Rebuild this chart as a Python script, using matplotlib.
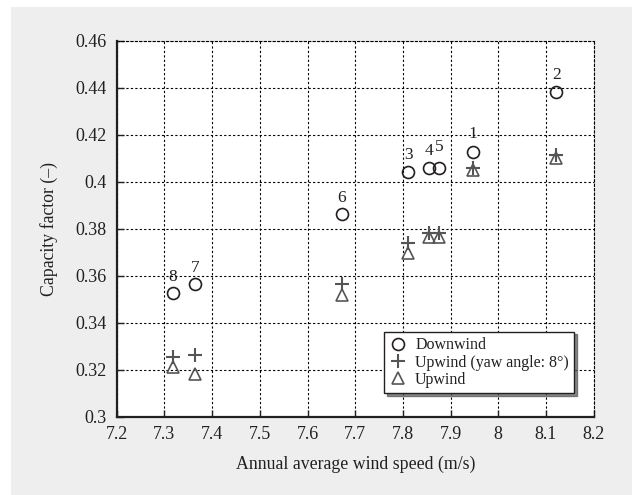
import matplotlib
matplotlib.use("Agg")
import matplotlib.pyplot as plt
from matplotlib.patches import Rectangle

plt.rcParams['font.family'] = ['Liberation Serif', 'DejaVu Serif']
plt.rcParams['mathtext.fontset'] = 'stix'

# Turbine sites 1-8
site_labels = ['1', '2', '3', '4', '5', '6', '7', '8']
wind_speed = [7.946, 8.122, 7.811, 7.854, 7.876, 7.672, 7.365, 7.317]
cf_downwind = [0.4125, 0.4381, 0.4041, 0.4058, 0.4058, 0.3861, 0.3563, 0.3525]
cf_upwind_yaw8 = [0.4057, 0.4114, 0.3740, 0.3780, 0.3780, 0.3563, 0.3261, 0.3253]
cf_upwind = [0.4050, 0.4101, 0.3698, 0.3763, 0.3765, 0.3520, 0.3182, 0.3213]
label_offsets = [13, 12, 12, 12, 15.5, 11.5, 12, 12]

x_ticks = [7.2, 7.3, 7.4, 7.5, 7.6, 7.7, 7.8, 7.9, 8.0, 8.1, 8.2]
x_tick_labels = ['7.2', '7.3', '7.4', '7.5', '7.6', '7.7', '7.8', '7.9', '8', '8.1', '8.2']
y_ticks = [0.30, 0.32, 0.34, 0.36, 0.38, 0.40, 0.42, 0.44, 0.46]
y_tick_labels = ['0.3', '0.32', '0.34', '0.36', '0.38', '0.4', '0.42', '0.44', '0.46']

ink = '#231f20'
grey = '#555555'

fig = plt.figure(figsize=(6.32, 4.95), dpi=100)
fig.patch.set_facecolor('white')
fig.add_artist(Rectangle((11 / 632, 0), 1 - 11 / 632, 1 - 7.3 / 495,
                         transform=fig.transFigure, facecolor='#eeeeee',
                         edgecolor='none', zorder=-10))

ax = fig.add_axes([116.7 / 632, 1 - 416.7 / 495, 477 / 632, 376 / 495])
ax.set_facecolor('white')

ax.plot(wind_speed, cf_downwind, linestyle='none', marker='o', markersize=8.6,
        markerfacecolor='none', markeredgecolor=ink, markeredgewidth=1.2,
        label='Downwind', zorder=4)
ax.plot(wind_speed, cf_upwind_yaw8, linestyle='none', marker='+', markersize=9.5,
        markeredgecolor=grey, markeredgewidth=1.5,
        label='Upwind (yaw angle: 8°)', zorder=4)
ax.plot(wind_speed, cf_upwind, linestyle='none', marker='^', markersize=8.5,
        markerfacecolor='none', markeredgecolor=grey, markeredgewidth=1.2,
        label='Upwind', zorder=4)

for lab, xv, yv, off in zip(site_labels, wind_speed, cf_downwind, label_offsets):
    ax.annotate(lab, (xv, yv), xytext=(0, off), textcoords='offset points',
                ha='center', va='center', fontsize=12.5, color=ink, zorder=5)

ax.set_xlim(7.2, 8.2)
ax.set_ylim(0.30, 0.46)
ax.set_xticks(x_ticks)
ax.set_xticklabels(x_tick_labels)
ax.set_yticks(y_ticks)
ax.set_yticklabels(y_tick_labels)
ax.tick_params(direction='in', length=5, width=1, colors=ink, labelsize=13,
               labelcolor=ink, pad=7)

ax.grid(True, color='black', linestyle=(0, (2.0, 2.0)), linewidth=0.8)
ax.set_axisbelow(True)
for side in ('left', 'bottom'):
    ax.spines[side].set_color(ink)
    ax.spines[side].set_linewidth(1.6)
    ax.spines[side].set_zorder(6)
for side in ('top', 'right'):
    ax.spines[side].set_color('black')
    ax.spines[side].set_linewidth(0.8)
    ax.spines[side].set_linestyle((0, (2.0, 2.0)))

ax.set_xlabel('Annual average wind speed (m/s)', fontsize=12.8, color=ink, labelpad=9)
ax.set_ylabel('Capacity factor (–)', fontsize=12.8, color=ink, labelpad=13)

leg = ax.legend(loc='upper left', bbox_to_anchor=(384 / 632, 1 - 331.7 / 495),
                bbox_transform=fig.transFigure, fontsize=11.5, frameon=True,
                fancybox=False, shadow={'color': '#555555', 'alpha': 0.7},
                edgecolor=ink, framealpha=1, borderpad=0.35, labelspacing=0.08,
                handlelength=1.0, handletextpad=0.6, borderaxespad=0)
leg.get_frame().set_linewidth(1.0)
for t in leg.get_texts():
    t.set_color(ink)

fig.savefig('out.png', dpi=100, facecolor=fig.get_facecolor())
